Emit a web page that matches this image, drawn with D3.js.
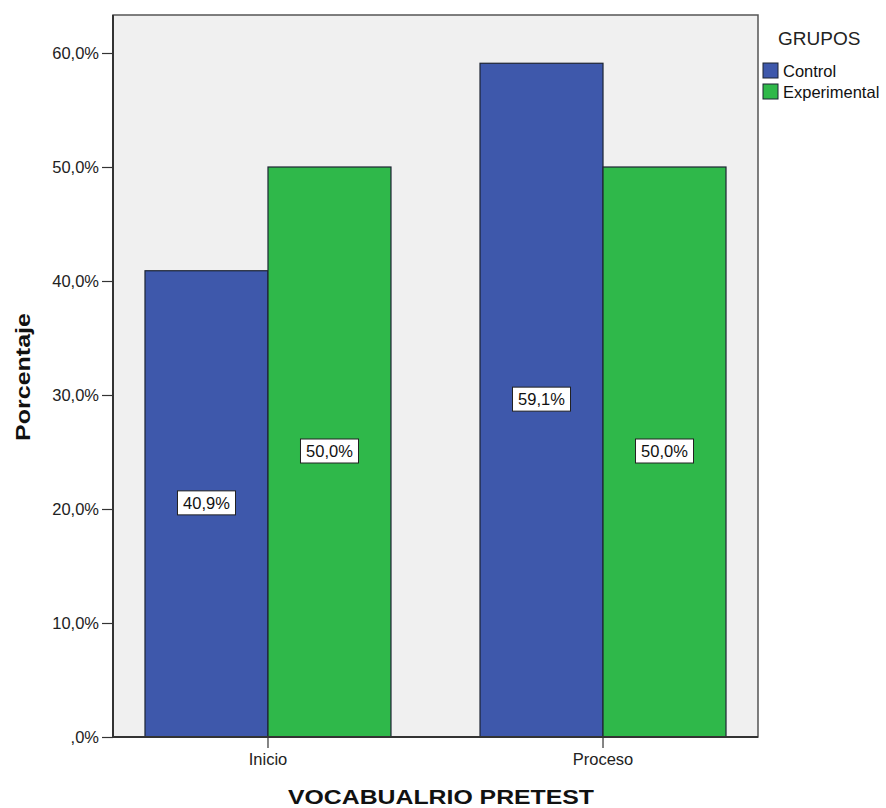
<!DOCTYPE html>
<html><head><meta charset="utf-8">
<script src="https://cdn.jsdelivr.net/npm/d3@7"></script>
<style>body{margin:0;background:#fff}svg{display:block;font-family:"Liberation Sans",Arial,sans-serif}</style>
</head><body><svg id="c" width="886" height="808"></svg>
<script>
const categories = ["Inicio", "Proceso"];
const groups = ["Control", "Experimental"];
const control = [40.9, 59.1];
const experimental = [50.0, 50.0];
const yTicks = [0, 10, 20, 30, 40, 50, 60];
const colors = ["#3e58ab", "#2fb84a"];

const svg = d3.select("#c");
const L = 113, R = 758, T = 15, B = 737;
const x = d3.scaleBand().domain(categories).range([L, R]).paddingInner(0.2657).paddingOuter(0.0955);
const xs = d3.scaleBand().domain(groups).range([0, x.bandwidth()]);
const y = d3.scaleLinear().domain([0, 60]).range([B, 53]);
const fmt0 = v => v === 0 ? ",0%" : v.toFixed(1).replace(".", ",") + "%";
const FF = "Liberation Sans, Arial, sans-serif";

svg.append("rect").attr("x", L).attr("y", T).attr("width", R - L).attr("height", B - T)
  .attr("fill", "#f0f0f0").attr("stroke", "#555").attr("stroke-width", 1.5);

const data = [];
categories.forEach((c, i) => {
  data.push({c, g: groups[0], v: control[i], col: colors[0]});
  data.push({c, g: groups[1], v: experimental[i], col: colors[1]});
});

svg.selectAll("rect.bar").data(data).enter().append("rect").attr("class", "bar")
  .attr("x", d => x(d.c) + xs(d.g)).attr("width", xs.bandwidth())
  .attr("y", d => y(d.v)).attr("height", d => B - y(d.v))
  .attr("fill", d => d.col).attr("stroke", "#1d2433").attr("stroke-width", 1.2);

// value labels
const lab = svg.selectAll("g.lab").data(data).enter().append("g").attr("class", "lab")
  .attr("transform", d => `translate(${x(d.c) + xs(d.g) + xs.bandwidth() / 2},${(y(d.v) + B) / 2 - 1})`);
lab.append("rect").attr("x", -29).attr("y", -12).attr("width", 58).attr("height", 24)
  .attr("fill", "#fff").attr("stroke", "#222").attr("stroke-width", 1);
lab.append("text").attr("text-anchor", "middle").attr("dy", "0.36em").attr("font-size", 16.5).attr("fill", "#111")
  .text(d => d.v.toFixed(1).replace(".", ",") + "%");

// axes
const ya = svg.append("g").attr("transform", `translate(${L},0)`)
  .call(d3.axisLeft(y).tickValues(yTicks).tickSize(11).tickPadding(3).tickFormat(fmt0));
ya.select(".domain").remove();
ya.selectAll("line").attr("stroke", "#333").attr("stroke-width", 1.2);
ya.selectAll("text").attr("font-size", 16.5).attr("fill", "#222").attr("font-family", FF);

const xa = svg.append("g").attr("transform", `translate(0,${B})`)
  .call(d3.axisBottom(x).tickSize(11));
xa.select(".domain").remove();
xa.selectAll("line").attr("stroke", "#333").attr("stroke-width", 1.2);
xa.selectAll("text").attr("font-size", 16.5).attr("fill", "#222").attr("font-family", FF)
  .attr("y", 28).attr("dy", 0);

svg.append("line").attr("x1", L).attr("x2", L).attr("y1", T).attr("y2", B).attr("stroke", "#333").attr("stroke-width", 2);
svg.append("line").attr("x1", L).attr("x2", R).attr("y1", B).attr("y2", B).attr("stroke", "#333").attr("stroke-width", 2);

// titles
svg.append("text").attr("transform", "translate(30,377) rotate(-90)").attr("text-anchor", "middle")
  .attr("font-size", 21).attr("font-weight", "bold").attr("fill", "#111")
  .attr("textLength", 128).attr("lengthAdjust", "spacingAndGlyphs").text("Porcentaje");
svg.append("text").attr("x", 441).attr("y", 804).attr("text-anchor", "middle")
  .attr("font-size", 21).attr("font-weight", "bold").attr("fill", "#111")
  .attr("textLength", 306).attr("lengthAdjust", "spacingAndGlyphs").text("VOCABUALRIO PRETEST");

// legend
svg.append("text").attr("x", 778).attr("y", 45).attr("font-size", 19).attr("fill", "#222").text("GRUPOS");
const lg = svg.selectAll("g.lg").data(groups).enter().append("g").attr("class", "lg")
  .attr("transform", (d, i) => `translate(763,${63 + i * 21})`);
lg.append("rect").attr("width", 15).attr("height", 15).attr("fill", (d, i) => colors[i]).attr("stroke", "#1d2433");
lg.append("text").attr("x", 20).attr("y", 14).attr("font-size", 16.5).attr("fill", "#111").text(d => d);
</script></body></html>
